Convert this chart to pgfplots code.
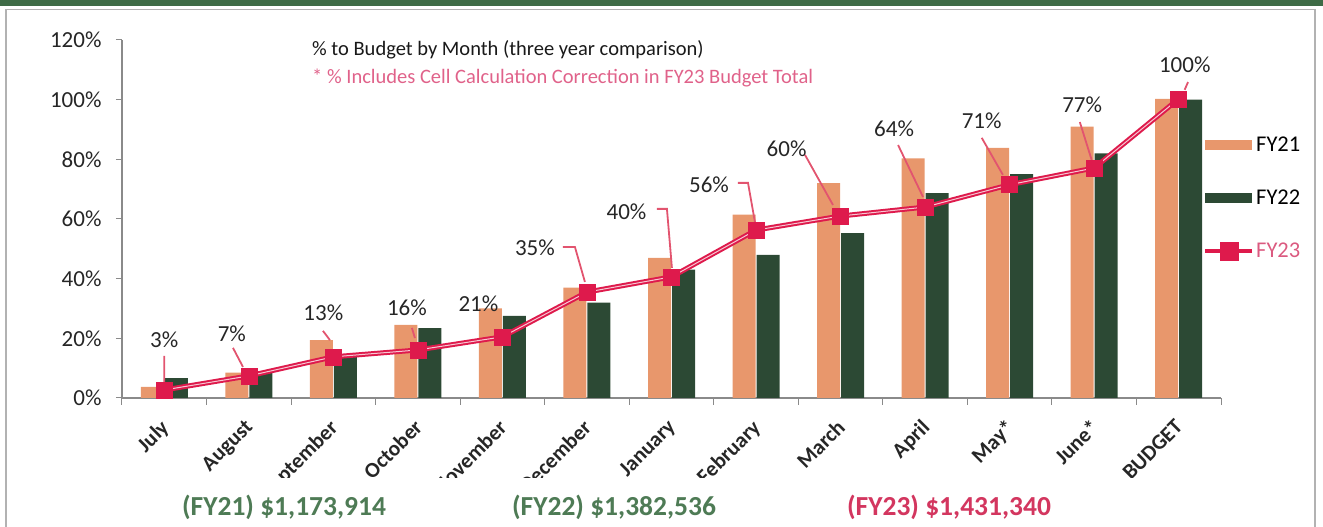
\documentclass[border=0pt]{standalone}
\usepackage{fontspec}
\setmainfont{Carlito}
\usepackage{pgfplots}
\pgfplotsset{compat=1.18}
\definecolor{fyorange}{HTML}{E8976C}
\definecolor{fygreen}{HTML}{2C4934}
\definecolor{fyred}{HTML}{DE1A4C}
\definecolor{fypink}{HTML}{DB5A80}
\definecolor{titlepink}{HTML}{E0628A}
\definecolor{lead}{HTML}{E2546F}
\definecolor{axgray}{HTML}{8A8A8A}
\definecolor{botgreen}{HTML}{4E7B55}
\definecolor{botred}{HTML}{D3365F}
\definecolor{framegreen}{HTML}{3E6B46}
\newcommand{\fs}[1]{\fontsize{#1}{#1}\selectfont}
\begin{document}
\begin{tikzpicture}[x=1pt,y=1pt]
\fill[framegreen] (0,521) rectangle (1323,527);
\draw[black!30, line width=1.2pt] (6,0) -- (6,517.5) -- (1315,517.5) -- (1315,0);
\begin{axis}[
  at={(122pt,129pt)}, anchor=south west, scale only axis,
  width=1099pt, height=358pt,
  xmin=-0.5, xmax=12.5, ymin=0, ymax=120,
  axis x line*=bottom, axis y line*=left,
  axis line style={axgray, line width=1.2pt},
  /pgf/number format/assume math mode=true,
  ytick={0,20,...,120},
  yticklabels={0\%,20\%,40\%,60\%,80\%,100\%,120\%},
  yticklabel style={font=\fs{23}, text=black!85, xshift=-11pt},
  xtick={0,...,12},
  xticklabels={July,August,September,October,November,December,January,February,March,April,May*,June*,BUDGET},
  xticklabel style={font=\bfseries\fs{21.5}, text=black!85, xshift=-5pt, yshift=-14pt, rotate=45, anchor=north east, inner sep=0pt},
  major x tick style={draw=none},
  minor xtick={-0.5,0.5,...,12.5},
  minor x tick style={axgray, line width=1pt},
  tick align=outside, major tick length=6pt, minor tick length=7pt,
  major y tick style={axgray, line width=1pt},
  clip=false,
  legend style={at={(axis description cs:0.9836,0.558)}, anchor=west, draw=none, fill=none, inner sep=0pt, font=\fs{22.5}, row sep=33pt},
  legend cell align=left,
]
\addplot[ybar, bar width=23pt, bar shift=-12pt, fill=fyorange, draw=none,
  legend image code/.code={\fill[fyorange] (0pt,-5pt) rectangle (47pt,5pt);}]
  coordinates {(0,3.7) (1,8.5) (2,19.4) (3,24.5) (4,30) (5,37) (6,47) (7,61.5) (8,72) (9,80.3) (10,83.8) (11,91) (12,100.3)};
\addlegendentry{FY21}
\addplot[ybar, bar width=23pt, bar shift=12pt, fill=fygreen, draw=none,
  legend image code/.code={\fill[fygreen] (0pt,-5pt) rectangle (47pt,5pt);}]
  coordinates {(0,6.7) (1,9) (2,14.4) (3,23.4) (4,27.5) (5,32) (6,43) (7,48) (8,55.3) (9,68.7) (10,75) (11,82) (12,100)};
\addlegendentry{FY22}
% leader lines
\addplot[lead, line width=1.8pt, forget plot, unbounded coords=jump] coordinates {
  (0,14.1) (0,5.4) (0,nan)
  (0.813,16.8) (0.931,10.4) (0.931,nan)
  (1.877,22.5) (1.96,19.4) (1.96,nan)
  (2.929,23.5) (2.965,20.1) (2.965,nan)
  (4.716,50.6) (4.858,50.6) (4.976,38.9) (4.976,nan)
  (5.828,63.4) (5.946,63.4) (6.005,43.6) (6.005,nan)
  (6.786,72.1) (6.905,72.1) (6.987,59.0) (6.987,nan)
  (7.579,81.5) (7.91,64.7) (7.91,nan)
  (8.68,84.8) (8.975,67.4) (8.975,nan)
  (9.67,87.2) (9.92,74.8) (9.92,nan)
  (10.83,92.5) (10.97,79.8) (10.97,nan)
  (12.11,105.9) (12.07,103.3)
};
\addplot[fyred, line width=5pt, no marks,
  nodes near coords={\pgfmathprintnumber{\pgfplotspointmeta}\%},
  point meta=explicit,
  visualization depends on={\thisrow{dx} \as \dx},
  visualization depends on={\thisrow{dy} \as \dy},
  every node near coord/.append style={font=\fs{23}, text=black!85, anchor=center, xshift=\dx pt, yshift=\dy pt},
  legend image code/.code={\draw[fyred, line width=4pt] (0pt,0pt) -- (47pt,0pt); \fill[fyred] (17pt,-7pt) rectangle (31pt,7pt);}]
  table[x=x, y=y, meta=lab] {
x y lab dx dy
0 2.7 3 0 50
1 7.4 7 -17 42
2 13.8 13 -10 44
3 16.1 16 -11 42
4 20.5 21 -24 33
5 35.5 35 -52 44
6 40.6 40 -45 65
7 56.3 56 -47 45
8 61 60 -54 67
9 64 64 -31 78
10 71.5 71 -28 64
11 77.1 77 -12 63
12 100.3 100 6 34
};
\addlegendentry{\textcolor{fypink}{FY23}}
\addplot[white!75!fyred, line width=1pt, no marks, forget plot]
  coordinates {(0,2.7) (1,7.4) (2,13.8) (3,16.1) (4,20.5) (5,35.5) (6,40.6) (7,56.3) (8,61) (9,64) (10,71.5) (11,77.1) (12,100.3)};
\addplot[only marks, mark=square*, mark size=8pt, mark options={fill=fyred, draw=fyred, line width=0.5pt}, forget plot]
  coordinates {(0,2.7) (1,7.4) (2,13.8) (3,16.1) (4,20.5) (5,35.5) (6,40.6) (7,56.3) (8,61) (9,64) (10,71.5) (11,77.1) (12,100.3)};
\end{axis}
\fill[white] (7.5,1) rectangle (1314,49);
\node[inner sep=0pt, anchor=west, font=\fs{20.5}, text=black!90] at (312,477) {\% to Budget by Month (three year comparison)};
\node[inner sep=0pt, anchor=west, font=\fs{20.5}, text=titlepink] at (312,449) {* \% Includes Cell Calculation Correction in FY23 Budget Total};
\node[inner sep=0pt, font=\bfseries\fs{27.5}, text=botgreen] at (284,20) {(FY21) \$1,173,914};
\node[inner sep=0pt, font=\bfseries\fs{27.5}, text=botgreen] at (614,20) {(FY22) \$1,382,536};
\node[inner sep=0pt, font=\bfseries\fs{27.5}, text=botred] at (949,20) {(FY23) \$1,431,340};
\pgfresetboundingbox
\path[use as bounding box] (0,0) rectangle (1323,527);
\end{tikzpicture}
\end{document}
